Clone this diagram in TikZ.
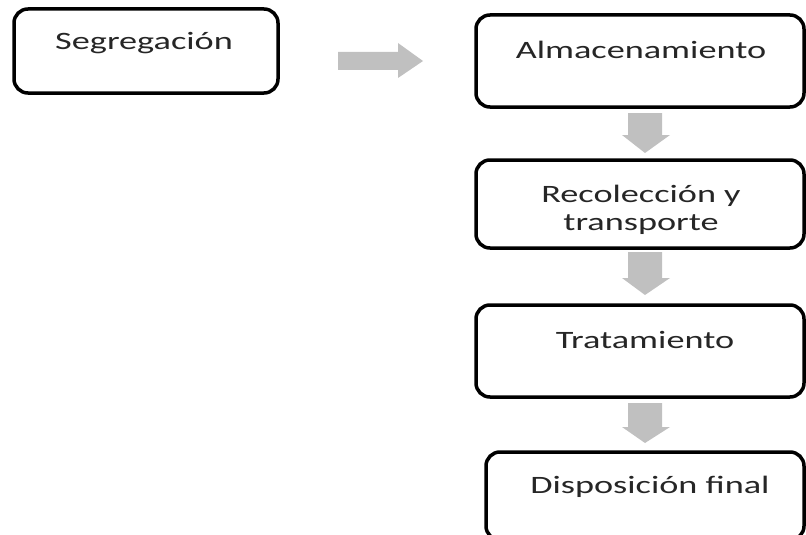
\documentclass[tikz,border=0pt]{standalone}
\usepackage{fontspec}
\setmainfont{Carlito}
\usepackage{graphicx}
\definecolor{arrowgray}{RGB}{192,192,192}
\tikzset{
  box/.style={draw=black, line width=3.5pt, rounded corners=14pt, fill=white},
  lbl/.style={font=\fontsize{25}{28}\selectfont, inner sep=0pt, text=black!85, align=center},
  blockarrow/.style={fill=arrowgray, draw=none}
}
\newcommand{\wide}[1]{\scalebox{1.45}[1]{#1}}
\begin{document}
\begin{tikzpicture}[x=1pt,y=-1pt]
\useasboundingbox (0,0) rectangle (806,535);
% boxes
\draw[box] (14,9) rectangle (278,93);
\node[lbl, anchor=base] (seg) at (144,50) {\wide{Segregación}};
\draw[box] (476,15) rectangle (804,107);
\node[lbl, anchor=base] (alm) at (641,59) {\wide{Almacenamiento}};
\draw[box] (476,160) rectangle (804,248);
\node[lbl, anchor=base] (rec1) at (641,202) {\wide{Recolección y}};
\node[lbl, anchor=base] (rec2) at (641,230) {\wide{transporte}};
\draw[box] (476,305) rectangle (804,397);
\node[lbl, anchor=base] (tra) at (645,348) {\wide{Tratamiento}};
\draw[box] (486,452) rectangle (804,540);
\node[lbl, anchor=base] (dis) at (650,493) {\wide{Disposición final}};
% horizontal arrow
\coordinate (h) at (338,61);
\fill[blockarrow] (h) ++(0,-9) -- ++(60,0) -- ++(0,-9) -- ++(25,18) -- ++(-25,17) -- ++(0,-8) -- ++(-60,0) -- cycle;
% down arrows
\coordinate (d1) at (645,113);
\fill[blockarrow] (d1) ++(-17,0) -- ++(34,0) -- ++(0,22) -- ++(8,0) -- ++(-25,18) -- ++(-23,-18) -- ++(6,0) -- cycle;
\coordinate (d2) at (645,252);
\fill[blockarrow] (d2) ++(-17,0) -- ++(34,0) -- ++(0,26) -- ++(8,0) -- ++(-25,17) -- ++(-23,-17) -- ++(6,0) -- cycle;
\coordinate (d3) at (645,403);
\fill[blockarrow] (d3) ++(-17,0) -- ++(34,0) -- ++(0,24) -- ++(8,0) -- ++(-25,16) -- ++(-23,-16) -- ++(6,0) -- cycle;
\end{tikzpicture}
\end{document}
